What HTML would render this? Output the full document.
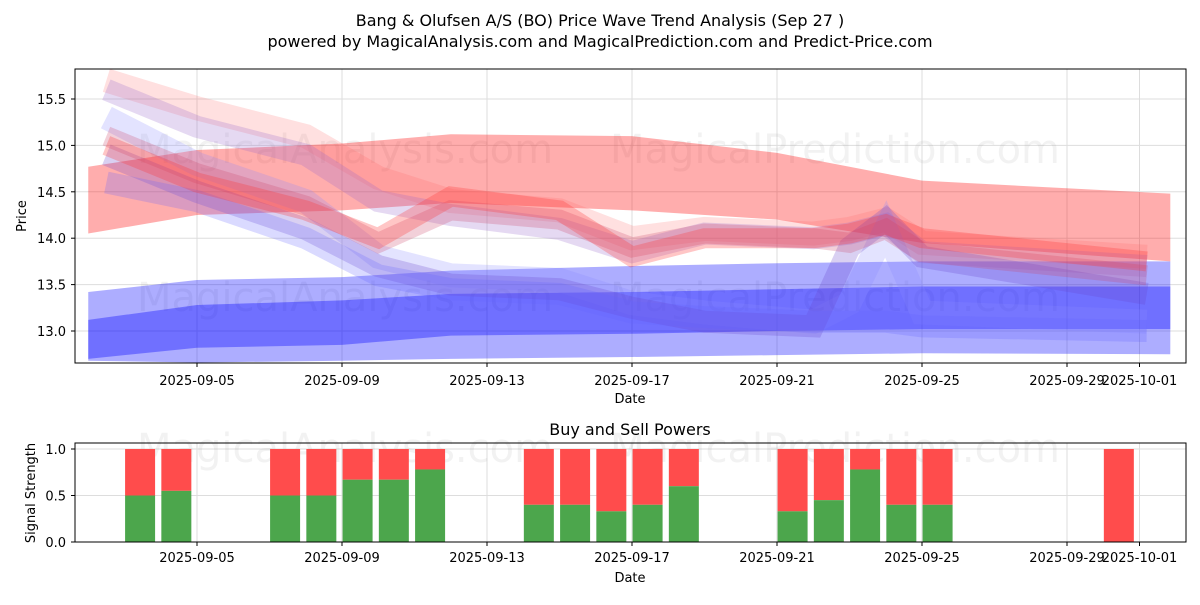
<!DOCTYPE html>
<html><head><meta charset="utf-8"><style>
body{margin:0;background:#fff;font-family:"Liberation Sans","DejaVu Sans",sans-serif}
svg text{font-family:"DejaVu Sans","Liberation Sans",sans-serif}
</style></head><body>
<svg id="c" width="1200" height="600" xmlns="http://www.w3.org/2000/svg"></svg>
<script>
const tickDays=[4,8,12,16,20,24,28,30];
const tickLabels=["2025-09-05","2025-09-09","2025-09-13","2025-09-17","2025-09-21","2025-09-25","2025-09-29","2025-10-01"];
const priceTicks=[13.0,13.5,14.0,14.5,15.0,15.5];
const sigTicks=[0.0,0.5,1.0];
const bandDays=[1,4,8,11,16,20,24,30.85];
const redTop=[14.77,14.95,15.02,15.12,15.1,14.92,14.62,14.48];
const redBot=[14.05,14.25,14.3,14.38,14.3,14.2,13.95,13.75];
const lblueTop=[13.42,13.55,13.58,13.65,13.7,13.73,13.75,13.75];
const lblueBot=[12.68,12.66,12.68,12.7,12.72,12.74,12.76,12.75];
const dblueTop=[13.12,13.28,13.33,13.4,13.42,13.45,13.48,13.48];
const dblueBot=[12.7,12.82,12.85,12.95,12.97,13.0,13.02,13.02];
const waveDays=[1.5,4,7,9,11,14,16,18,21,22,23,24,30.2];
const waveA=[15.7,15.4,15.1,14.65,14.4,14.3,14.0,14.1,14.05,14.1,14.2,13.95,13.8];
const waveB=[15.6,15.2,14.9,14.4,14.25,14.1,13.85,14.05,14.0,14.05,14.15,13.85,13.7];
const waveC=[15.0,14.6,14.3,14.0,14.45,14.3,13.8,14.0,14.0,14.05,14.15,14.0,13.75];
const waveD=[15.3,14.8,14.4,13.8,13.6,13.55,13.3,13.2,13.1,13.3,14.1,13.2,13.1];
const waveE=[14.9,14.5,14.1,13.7,13.5,13.45,13.25,13.1,13.05,13.9,14.2,13.8,13.4];
const waveF=[14.6,14.4,14.0,13.6,13.45,13.4,13.2,13.15,13.1,13.1,13.1,13.05,13.0];
const waveG=[15.1,14.7,14.35,13.95,14.3,14.2,13.9,14.05,14.0,13.95,14.1,13.85,13.6];
const barDays=[3,4,7,8,9,10,11,14,15,16,17,18,21,22,23,24,25,30];
const buyVals=[0.5,0.55,0.5,0.5,0.67,0.67,0.78,0.4,0.4,0.33,0.4,0.6,0.33,0.45,0.78,0.4,0.4,0];

const NS="http://www.w3.org/2000/svg",svg=document.getElementById('c');
const X=d=>52+36.25*d, Y=p=>331+(13-p)*92.8, Ys=v=>542-v*93;
const barShift=-0.57;
function mk(t,a,p){const e=document.createElementNS(NS,t);for(const k in a)e.setAttribute(k,a[k]);(p||svg).appendChild(e);return e;}
function txt(x,y,s,sz,anch,extra){const e=mk('text',Object.assign({x:x,y:y,'font-size':sz,'text-anchor':anch||'middle',fill:'#000'},extra||{}));e.textContent=s;return e;}
let t;
t=txt(600,26,"Bang & Olufsen A/S (BO) Price Wave Trend Analysis (Sep 27 )",16);
t=txt(600,47,"powered by MagicalAnalysis.com and MagicalPrediction.com and Predict-Price.com",16);
priceTicks.forEach((p,i)=>{const l=mk('line',{x1:75,x2:1186,y1:Y(p),y2:Y(p),stroke:'#ddd','stroke-width':1});
 mk('line',{x1:71,x2:75,y1:Y(p),y2:Y(p),stroke:'#000'});t=txt(66,Y(p)+5,p.toFixed(1),13,'end');});
tickDays.forEach((d,i)=>{mk('line',{x1:X(d),x2:X(d),y1:69,y2:363,stroke:'#ddd'});mk('line',{x1:X(d),x2:X(d),y1:443,y2:542,stroke:'#ddd'});
 mk('line',{x1:X(d),x2:X(d),y1:363,y2:367,stroke:'#000'});mk('line',{x1:X(d),x2:X(d),y1:542,y2:546,stroke:'#000'});
 t=txt(X(d),385,tickLabels[i],13);
 t=txt(X(d),562,tickLabels[i],13);});
sigTicks.forEach(v=>{mk('line',{x1:75,x2:1186,y1:Ys(v),y2:Ys(v),stroke:'#ddd'});mk('line',{x1:71,x2:75,y1:Ys(v),y2:Ys(v),stroke:'#000'});
 t=txt(66,Ys(v)+5,v.toFixed(1),13,'end');});
[[345,163],[835,163],[345,311],[835,311],[345,462],[835,462]].forEach((w,i)=>{t=txt(w[0],w[1],i%2?"MagicalPrediction.com":"MagicalAnalysis.com",40,'middle',{fill:'#999','fill-opacity':0.13});});
const defs=mk('defs',{});const cp=mk('clipPath',{id:'clipTop'},defs);mk('rect',{x:75,y:69,width:1111,height:294},cp);
const g=mk('g',{'clip-path':'url(#clipTop)'});
function band(top,bot,col,op,name){let pts=bandDays.map((d,i)=>X(d)+','+Y(top[i]));for(let i=bandDays.length-1;i>=0;i--)pts.push(X(bandDays[i])+','+Y(bot[i]));
 const e=mk('polygon',{points:pts.join(' '),fill:col,'fill-opacity':op},g);}
band(lblueTop,lblueBot,'#0000ff',0.32,'lower-blue-band');
band(dblueTop,dblueBot,'#0000ff',0.35,'blue-band');
band(redTop,redBot,'#ff0000',0.32,'red-band');
function wave(vals,col,op,w,name){const e=mk('polyline',{points:waveDays.map((d,i)=>X(d)+','+Y(vals[i])).join(' '),fill:'none',stroke:col,'stroke-opacity':op,'stroke-width':w,'stroke-linejoin':'miter'},g);}
wave(waveA,'#ff6666',0.2,24,'wave-a');
wave(waveB,'#9966cc',0.25,22,'wave-b');
wave(waveD,'#8888ff',0.24,24,'wave-d');
wave(waveE,'#6644cc',0.25,22,'wave-e');
wave(waveF,'#6666ff',0.24,22,'wave-f');
wave(waveG,'#cc4466',0.25,20,'wave-g');
wave(waveC,'#ff3333',0.28,20,'wave-c');
mk('rect',{x:75,y:69,width:1111,height:294,fill:'none',stroke:'#000','stroke-width':1});
t=txt(630,403,"Date",13);
t=txt(26,216,"Price",13,'middle',{transform:'rotate(-90 26 216)'});
barDays.forEach((d,i)=>{const x=X(d+barShift)-15;const r=mk('rect',{x:x,y:Ys(1),width:30,height:Ys(buyVals[i])-Ys(1),fill:'#ff4c4c'});
 const b=mk('rect',{x:x,y:Ys(buyVals[i]),width:30,height:542-Ys(buyVals[i]),fill:'#4ca64c'});});
mk('rect',{x:75,y:443,width:1111,height:99,fill:'none',stroke:'#000'});
t=txt(630,435,"Buy and Sell Powers",16);
t=txt(630,582,"Date",13);
t=txt(35,493,"Signal Strength",13,'middle',{transform:'rotate(-90 35 493)'});
</script></body></html>
